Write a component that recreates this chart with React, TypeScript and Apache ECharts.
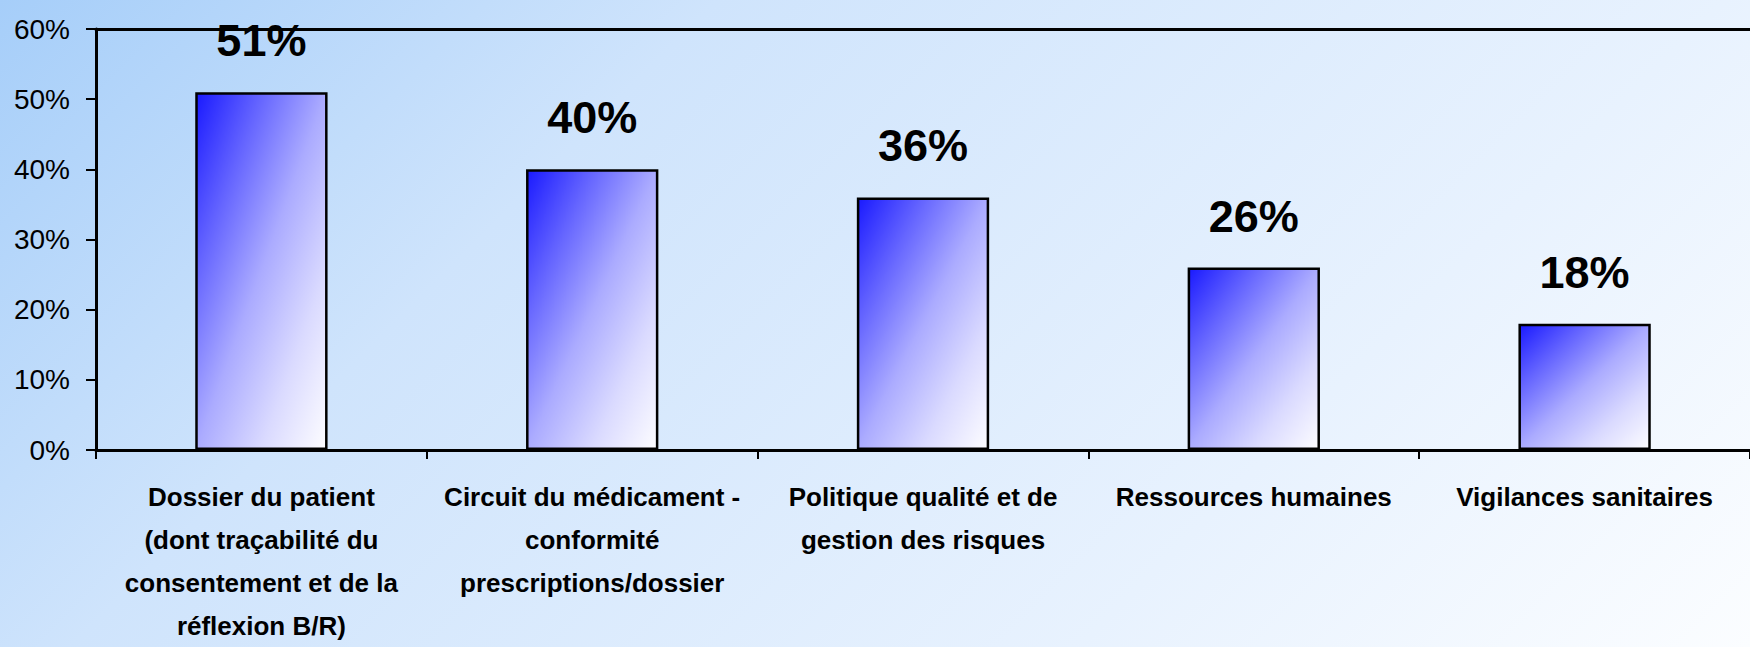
import React, { useEffect, useRef } from "react";
import * as echarts from "echarts";

const categories: string[] = [
  "Dossier du patient\n(dont traçabilité du\nconsentement et de la\nréflexion B/R)",
  "Circuit du médicament -\nconformité\nprescriptions/dossier",
  "Politique qualité et de\ngestion des risques",
  "Ressources humaines",
  "Vigilances sanitaires",
];
const values: number[] = [51, 40, 36, 26, 18];
const yMin = 0;
const yMax = 60;
const yInterval = 10;

const SANS = "'Liberation Sans', Arial, sans-serif";

const barFill = new echarts.graphic.LinearGradient(0, 0, 1, 1, [
  { offset: 0, color: "#1a1aff" },
  { offset: 0.25, color: "#6464ff" },
  { offset: 0.5, color: "#ababff" },
  { offset: 0.75, color: "#dadaff" },
  { offset: 1, color: "#fdfdff" },
]);

export default function App() {
  const ref = useRef<HTMLDivElement>(null);
  useEffect(() => {
    if (!ref.current) return;
    const chart = echarts.init(ref.current, undefined, { renderer: "svg" });
    chart.setOption({
      animation: false,
      backgroundColor: new echarts.graphic.LinearGradient(
        0,
        0,
        1198,
        1198,
        [
          { offset: 0, color: "#a6cef9" },
          { offset: 0.3, color: "#cfe4fc" },
          { offset: 0.72, color: "#e8f2fe" },
          { offset: 1, color: "#fbfdff" },
        ],
        true
      ),
      grid: { left: 96, top: 29, right: -14, bottom: 194, containLabel: false },
      xAxis: [
        {
          type: "category",
          data: categories,
          axisLine: { show: true, lineStyle: { color: "#000", width: 3 } },
          axisTick: { show: true, alignWithLabel: false, length: 9, lineStyle: { color: "#000", width: 2 } },
          axisLabel: {
            interval: 0,
            margin: 25,
            color: "#000",
            fontFamily: SANS,
            fontWeight: "bold",
            fontSize: 26,
            lineHeight: 43,
            align: "center",
          },
        },
        {
          type: "category",
          position: "top",
          data: categories,
          axisLine: { show: true, lineStyle: { color: "#000", width: 3 } },
          axisTick: { show: false },
          axisLabel: { show: false },
        },
      ],
      yAxis: {
        type: "value",
        min: yMin,
        max: yMax,
        interval: yInterval,
        axisLine: { show: true, lineStyle: { color: "#000", width: 3 } },
        axisTick: { show: true, inside: false, length: 10, lineStyle: { color: "#000", width: 2 } },
        splitLine: { show: false },
        axisLabel: {
          formatter: "{value}%",
          margin: 26,
          color: "#000",
          fontFamily: SANS,
          fontSize: 28,
        },
      },
      series: [
        {
          type: "bar",
          barWidth: "40%",
          data: values,
          itemStyle: { color: barFill, borderColor: "#000", borderWidth: 2.5 },
          label: {
            show: true,
            position: "top",
            distance: 29,
            formatter: "{c}%",
            color: "#000",
            fontFamily: SANS,
            fontWeight: "bold",
            fontSize: 45,
            lineHeight: 45,
          },
        },
      ],
    });
    return () => chart.dispose();
  }, []);
  return (
    <div
      ref={ref}
      style={{ position: "fixed", left: 0, top: 0, width: 1750, height: 647 }}
    />
  );
}
